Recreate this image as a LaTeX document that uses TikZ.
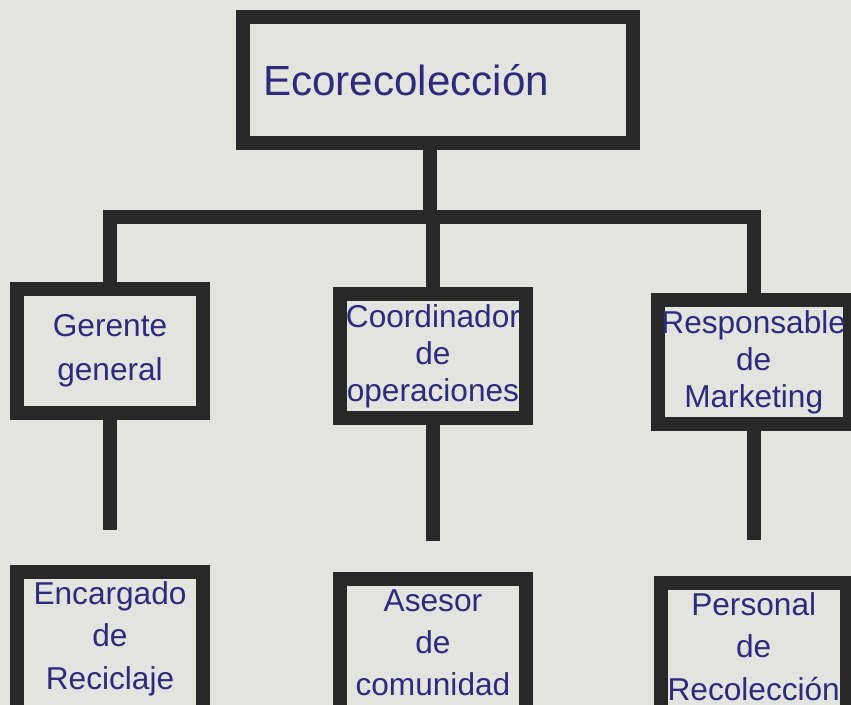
\documentclass[tikz,border=0pt]{standalone}
\usepackage{fontspec}
\setmainfont{Liberation Sans}
\usetikzlibrary{positioning}
\definecolor{paper}{RGB}{227,227,224}
\definecolor{frame}{RGB}{40,40,40}
\definecolor{ink}{RGB}{48,42,125}
\tikzset{
  box/.style={draw=frame,line width=2.8mm,align=center,text=ink,
    minimum width=3.72cm,minimum height=2.48cm,inner sep=2pt,
    font=\fontsize{18}{21}\selectfont},
  lowbox/.style={box,minimum height=3.2cm,text depth=0.66cm,
    font=\fontsize{18}{24}\selectfont},
  headbox/.style={box,minimum width=7.82cm,minimum height=2.52cm,
    text width=7cm,align=left,font=\fontsize{24}{28}\selectfont},
  link/.style={draw=frame,line width=2.8mm,line join=miter}
}

\begin{document}
\begin{tikzpicture}[x=0.02cm,y=-0.02cm]
\fill[paper] (0,0) rectangle (851,705);
\useasboundingbox (0,0) rectangle (851,705);
% top
\node[headbox] (eco) at (438,80) {Ecorecolección};
% second row
\node[box] (gerente) at (110,351) {Gerente\\[4pt]general};
\node[box,right=2.46cm of gerente,yshift=-0.1cm] (coord) {Coordinador\\de\\operaciones};
\node[box,right=2.36cm of coord,yshift=-0.12cm] (marketing) {Responsable\\de\\Marketing};
% third row
\node[lowbox,below=2.9cm of gerente] (reciclaje) {Encargado\\de\\Reciclaje};
\node[lowbox,below=2.94cm of coord] (asesor) {Asesor\\de\\comunidad};
\node[lowbox,below=2.9cm of marketing] (personal) {Personal\\de\\Recolección};
% connectors
\coordinate (bar) at (430,217);
\draw[link] (eco.south -| bar) -- (bar);
\draw[link] (gerente.north) -- (gerente.north |- bar) -- (marketing.north |- bar) -- (marketing.north);
\draw[link] (coord.north |- bar) -- (coord.north);
\coordinate (gerente-end) at (110,530);
\coordinate (coord-end) at (431,541);
\coordinate (marketing-end) at (751,540);
\draw[link] (gerente.south) -- (gerente.south |- gerente-end);
\draw[link] (coord.south) -- (coord.south |- coord-end);
\draw[link] (marketing.south) -- (marketing.south |- marketing-end);
\end{tikzpicture}
\end{document}
